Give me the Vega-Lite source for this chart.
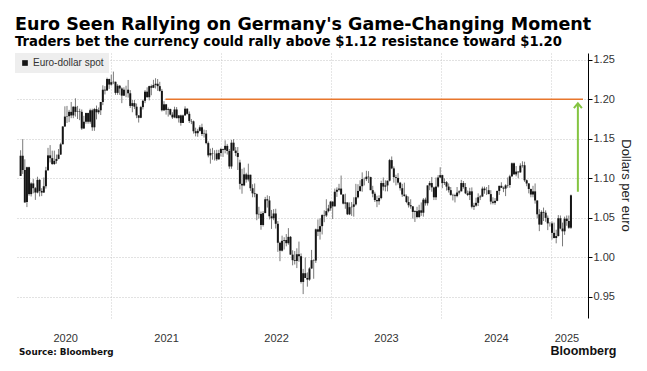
{
"$schema": "https://vega.github.io/schema/vega-lite/v6.json",
"autosize": {"type": "none"},
"width": 573, "height": 265,
"padding": {"left": 15, "top": 53, "right": 59, "bottom": 53},
"background": "white",
"title": {"text": "Euro Seen Rallying on Germany's Game-Changing Moment", "subtitle": "Traders bet the currency could rally above $1.12 resistance toward $1.20", "anchor": "start", "frame": "group", "font": "DejaVu Sans", "fontSize": 17.5, "fontWeight": "bold", "color": "#000", "subtitleFont": "DejaVu Sans", "subtitleFontSize": 13.2, "subtitleFontWeight": "bold", "subtitleColor": "#000", "offset": 5, "subtitlePadding": 2},
"config": {"view": {"stroke": null}, "font": "Liberation Sans",
 "legend": {"labelFont": "Liberation Sans", "labelFontSize": 10, "labelColor": "#333", "symbolSize": 32, "symbolType": "square", "padding": 5, "fillColor": "#eeeeee", "labelOffset": 3, "cornerRadius": 0}},
"datasets": {"fx": [
{"d":"2020-03-06","o":1.1030,"h":1.1355,"l":1.1030,"c":1.1285},
{"d":"2020-03-13","o":1.1285,"h":1.1495,"l":1.1055,"c":1.1105},
{"d":"2020-03-20","o":1.1105,"h":1.1240,"l":1.0690,"c":1.0695},
{"d":"2020-03-27","o":1.0700,"h":1.1147,"l":1.0636,"c":1.1140},
{"d":"2020-04-03","o":1.1140,"h":1.1147,"l":1.0780,"c":1.0800},
{"d":"2020-04-10","o":1.0800,"h":1.0950,"l":1.0770,"c":1.0935},
{"d":"2020-04-17","o":1.0935,"h":1.0990,"l":1.0810,"c":1.0875},
{"d":"2020-04-24","o":1.0875,"h":1.0890,"l":1.0727,"c":1.0820},
{"d":"2020-05-01","o":1.0820,"h":1.1020,"l":1.0810,"c":1.0980},
{"d":"2020-05-08","o":1.0980,"h":1.0990,"l":1.0770,"c":1.0840},
{"d":"2020-05-15","o":1.0840,"h":1.0875,"l":1.0775,"c":1.0820},
{"d":"2020-05-22","o":1.0820,"h":1.1010,"l":1.0815,"c":1.0900},
{"d":"2020-05-29","o":1.0900,"h":1.1145,"l":1.0870,"c":1.1100},
{"d":"2020-06-05","o":1.1100,"h":1.1385,"l":1.1100,"c":1.1290},
{"d":"2020-06-12","o":1.1290,"h":1.1420,"l":1.1200,"c":1.1255},
{"d":"2020-06-19","o":1.1255,"h":1.1350,"l":1.1170,"c":1.1180},
{"d":"2020-06-26","o":1.1180,"h":1.1350,"l":1.1170,"c":1.1220},
{"d":"2020-07-03","o":1.1220,"h":1.1300,"l":1.1185,"c":1.1245},
{"d":"2020-07-10","o":1.1245,"h":1.1370,"l":1.1240,"c":1.1300},
{"d":"2020-07-17","o":1.1300,"h":1.1450,"l":1.1295,"c":1.1430},
{"d":"2020-07-24","o":1.1430,"h":1.1660,"l":1.1430,"c":1.1655},
{"d":"2020-07-31","o":1.1655,"h":1.1910,"l":1.1650,"c":1.1780},
{"d":"2020-08-07","o":1.1780,"h":1.1915,"l":1.1700,"c":1.1785},
{"d":"2020-08-14","o":1.1785,"h":1.1865,"l":1.1710,"c":1.1840},
{"d":"2020-08-21","o":1.1840,"h":1.1965,"l":1.1760,"c":1.1795},
{"d":"2020-08-28","o":1.1795,"h":1.1910,"l":1.1760,"c":1.1905},
{"d":"2020-09-04","o":1.1905,"h":1.2011,"l":1.1780,"c":1.1840},
{"d":"2020-09-11","o":1.1840,"h":1.1915,"l":1.1750,"c":1.1845},
{"d":"2020-09-18","o":1.1845,"h":1.1880,"l":1.1735,"c":1.1840},
{"d":"2020-09-25","o":1.1840,"h":1.1870,"l":1.1612,"c":1.1630},
{"d":"2020-10-02","o":1.1630,"h":1.1790,"l":1.1625,"c":1.1715},
{"d":"2020-10-09","o":1.1715,"h":1.1830,"l":1.1690,"c":1.1825},
{"d":"2020-10-16","o":1.1825,"h":1.1830,"l":1.1690,"c":1.1715},
{"d":"2020-10-23","o":1.1715,"h":1.1880,"l":1.1690,"c":1.1860},
{"d":"2020-10-30","o":1.1860,"h":1.1880,"l":1.1600,"c":1.1645},
{"d":"2020-11-06","o":1.1645,"h":1.1890,"l":1.1600,"c":1.1875},
{"d":"2020-11-13","o":1.1875,"h":1.1920,"l":1.1745,"c":1.1835},
{"d":"2020-11-20","o":1.1835,"h":1.1895,"l":1.1810,"c":1.1860},
{"d":"2020-11-27","o":1.1860,"h":1.1965,"l":1.1800,"c":1.1965},
{"d":"2020-12-04","o":1.1965,"h":1.2175,"l":1.1925,"c":1.2120},
{"d":"2020-12-11","o":1.2120,"h":1.2165,"l":1.2060,"c":1.2110},
{"d":"2020-12-18","o":1.2110,"h":1.2272,"l":1.2105,"c":1.2255},
{"d":"2020-12-25","o":1.2255,"h":1.2260,"l":1.2130,"c":1.2185},
{"d":"2021-01-01","o":1.2185,"h":1.2310,"l":1.2170,"c":1.2215},
{"d":"2021-01-08","o":1.2215,"h":1.2349,"l":1.2190,"c":1.2220},
{"d":"2021-01-15","o":1.2220,"h":1.2222,"l":1.2055,"c":1.2080},
{"d":"2021-01-22","o":1.2080,"h":1.2190,"l":1.2055,"c":1.2170},
{"d":"2021-01-29","o":1.2170,"h":1.2180,"l":1.2055,"c":1.2135},
{"d":"2021-02-05","o":1.2135,"h":1.2150,"l":1.1950,"c":1.2045},
{"d":"2021-02-12","o":1.2045,"h":1.2150,"l":1.2040,"c":1.2120},
{"d":"2021-02-19","o":1.2120,"h":1.2170,"l":1.2025,"c":1.2120},
{"d":"2021-02-26","o":1.2120,"h":1.2243,"l":1.2020,"c":1.2075},
{"d":"2021-03-05","o":1.2075,"h":1.2115,"l":1.1890,"c":1.1915},
{"d":"2021-03-12","o":1.1915,"h":1.1990,"l":1.1835,"c":1.1950},
{"d":"2021-03-19","o":1.1950,"h":1.1990,"l":1.1875,"c":1.1905},
{"d":"2021-03-26","o":1.1905,"h":1.1945,"l":1.1760,"c":1.1795},
{"d":"2021-04-02","o":1.1795,"h":1.1800,"l":1.1705,"c":1.1765},
{"d":"2021-04-09","o":1.1765,"h":1.1915,"l":1.1760,"c":1.1900},
{"d":"2021-04-16","o":1.1900,"h":1.1995,"l":1.1870,"c":1.1980},
{"d":"2021-04-23","o":1.1980,"h":1.2115,"l":1.1950,"c":1.2095},
{"d":"2021-04-30","o":1.2095,"h":1.2150,"l":1.2020,"c":1.2025},
{"d":"2021-05-07","o":1.2025,"h":1.2170,"l":1.1985,"c":1.2165},
{"d":"2021-05-14","o":1.2165,"h":1.2185,"l":1.2050,"c":1.2145},
{"d":"2021-05-21","o":1.2145,"h":1.2245,"l":1.2140,"c":1.2180},
{"d":"2021-05-28","o":1.2180,"h":1.2265,"l":1.2135,"c":1.2195},
{"d":"2021-06-04","o":1.2195,"h":1.2255,"l":1.2105,"c":1.2165},
{"d":"2021-06-11","o":1.2165,"h":1.2220,"l":1.2095,"c":1.2105},
{"d":"2021-06-18","o":1.2105,"h":1.2130,"l":1.1845,"c":1.1860},
{"d":"2021-06-25","o":1.1860,"h":1.1975,"l":1.1850,"c":1.1935},
{"d":"2021-07-02","o":1.1935,"h":1.1940,"l":1.1805,"c":1.1865},
{"d":"2021-07-09","o":1.1865,"h":1.1895,"l":1.1780,"c":1.1875},
{"d":"2021-07-16","o":1.1875,"h":1.1880,"l":1.1795,"c":1.1805},
{"d":"2021-07-23","o":1.1805,"h":1.1835,"l":1.1750,"c":1.1770},
{"d":"2021-07-30","o":1.1770,"h":1.1905,"l":1.1760,"c":1.1870},
{"d":"2021-08-06","o":1.1870,"h":1.1900,"l":1.1760,"c":1.1760},
{"d":"2021-08-13","o":1.1760,"h":1.1800,"l":1.1705,"c":1.1795},
{"d":"2021-08-20","o":1.1795,"h":1.1805,"l":1.1665,"c":1.1700},
{"d":"2021-08-27","o":1.1700,"h":1.1805,"l":1.1700,"c":1.1795},
{"d":"2021-09-03","o":1.1795,"h":1.1910,"l":1.1790,"c":1.1880},
{"d":"2021-09-10","o":1.1880,"h":1.1885,"l":1.1805,"c":1.1815},
{"d":"2021-09-17","o":1.1815,"h":1.1845,"l":1.1700,"c":1.1725},
{"d":"2021-09-24","o":1.1725,"h":1.1750,"l":1.1685,"c":1.1720},
{"d":"2021-10-01","o":1.1720,"h":1.1730,"l":1.1565,"c":1.1595},
{"d":"2021-10-08","o":1.1595,"h":1.1640,"l":1.1530,"c":1.1570},
{"d":"2021-10-15","o":1.1570,"h":1.1625,"l":1.1525,"c":1.1600},
{"d":"2021-10-22","o":1.1600,"h":1.1670,"l":1.1590,"c":1.1645},
{"d":"2021-10-29","o":1.1645,"h":1.1690,"l":1.1535,"c":1.1560},
{"d":"2021-11-05","o":1.1560,"h":1.1615,"l":1.1515,"c":1.1565},
{"d":"2021-11-12","o":1.1565,"h":1.1610,"l":1.1430,"c":1.1445},
{"d":"2021-11-19","o":1.1445,"h":1.1465,"l":1.1265,"c":1.1290},
{"d":"2021-11-26","o":1.1290,"h":1.1375,"l":1.1185,"c":1.1320},
{"d":"2021-12-03","o":1.1320,"h":1.1385,"l":1.1235,"c":1.1315},
{"d":"2021-12-10","o":1.1315,"h":1.1355,"l":1.1225,"c":1.1315},
{"d":"2021-12-17","o":1.1315,"h":1.1360,"l":1.1220,"c":1.1240},
{"d":"2021-12-24","o":1.1240,"h":1.1360,"l":1.1235,"c":1.1320},
{"d":"2021-12-31","o":1.1320,"h":1.1385,"l":1.1275,"c":1.1370},
{"d":"2022-01-07","o":1.1370,"h":1.1375,"l":1.1270,"c":1.1360},
{"d":"2022-01-14","o":1.1360,"h":1.1480,"l":1.1315,"c":1.1410},
{"d":"2022-01-21","o":1.1410,"h":1.1435,"l":1.1300,"c":1.1345},
{"d":"2022-01-28","o":1.1345,"h":1.1370,"l":1.1120,"c":1.1150},
{"d":"2022-02-04","o":1.1150,"h":1.1485,"l":1.1120,"c":1.1450},
{"d":"2022-02-11","o":1.1450,"h":1.1495,"l":1.1350,"c":1.1350},
{"d":"2022-02-18","o":1.1350,"h":1.1395,"l":1.1280,"c":1.1320},
{"d":"2022-02-25","o":1.1320,"h":1.1395,"l":1.1105,"c":1.1270},
{"d":"2022-03-04","o":1.1200,"h":1.1235,"l":1.0860,"c":1.0930},
{"d":"2022-03-11","o":1.0930,"h":1.1120,"l":1.0805,"c":1.0910},
{"d":"2022-03-18","o":1.0910,"h":1.1135,"l":1.0900,"c":1.1050},
{"d":"2022-03-25","o":1.1050,"h":1.1070,"l":1.0945,"c":1.0985},
{"d":"2022-04-01","o":1.0985,"h":1.1185,"l":1.0960,"c":1.1045},
{"d":"2022-04-08","o":1.1045,"h":1.1045,"l":1.0840,"c":1.0875},
{"d":"2022-04-15","o":1.0875,"h":1.0925,"l":1.0760,"c":1.0810},
{"d":"2022-04-22","o":1.0810,"h":1.0935,"l":1.0760,"c":1.0800},
{"d":"2022-04-29","o":1.0800,"h":1.0810,"l":1.0470,"c":1.0545},
{"d":"2022-05-06","o":1.0545,"h":1.0640,"l":1.0490,"c":1.0550},
{"d":"2022-05-13","o":1.0550,"h":1.0580,"l":1.0350,"c":1.0410},
{"d":"2022-05-20","o":1.0410,"h":1.0585,"l":1.0390,"c":1.0560},
{"d":"2022-05-27","o":1.0560,"h":1.0765,"l":1.0560,"c":1.0735},
{"d":"2022-06-03","o":1.0735,"h":1.0785,"l":1.0630,"c":1.0720},
{"d":"2022-06-10","o":1.0720,"h":1.0775,"l":1.0480,"c":1.0520},
{"d":"2022-06-17","o":1.0520,"h":1.0600,"l":1.0360,"c":1.0495},
{"d":"2022-06-24","o":1.0495,"h":1.0610,"l":1.0470,"c":1.0555},
{"d":"2022-07-01","o":1.0555,"h":1.0615,"l":1.0365,"c":1.0425},
{"d":"2022-07-08","o":1.0425,"h":1.0460,"l":1.0070,"c":1.0185},
{"d":"2022-07-15","o":1.0185,"h":1.0200,"l":0.9952,"c":1.0085},
{"d":"2022-07-22","o":1.0085,"h":1.0275,"l":1.0075,"c":1.0210},
{"d":"2022-07-29","o":1.0210,"h":1.0255,"l":1.0100,"c":1.0220},
{"d":"2022-08-05","o":1.0220,"h":1.0295,"l":1.0140,"c":1.0180},
{"d":"2022-08-12","o":1.0180,"h":1.0370,"l":1.0160,"c":1.0260},
{"d":"2022-08-19","o":1.0260,"h":1.0270,"l":1.0035,"c":1.0035},
{"d":"2022-08-26","o":1.0035,"h":1.0090,"l":0.9900,"c":0.9965},
{"d":"2022-09-02","o":0.9965,"h":1.0080,"l":0.9910,"c":0.9955},
{"d":"2022-09-09","o":0.9955,"h":1.0115,"l":0.9865,"c":1.0040},
{"d":"2022-09-16","o":1.0040,"h":1.0200,"l":0.9945,"c":1.0015},
{"d":"2022-09-23","o":1.0015,"h":1.0050,"l":0.9670,"c":0.9690},
{"d":"2022-09-30","o":0.9690,"h":0.9855,"l":0.9536,"c":0.9800},
{"d":"2022-10-07","o":0.9800,"h":0.9999,"l":0.9740,"c":0.9740},
{"d":"2022-10-14","o":0.9740,"h":0.9810,"l":0.9630,"c":0.9720},
{"d":"2022-10-21","o":0.9720,"h":0.9875,"l":0.9705,"c":0.9860},
{"d":"2022-10-28","o":0.9860,"h":1.0095,"l":0.9855,"c":0.9965},
{"d":"2022-11-04","o":0.9965,"h":0.9975,"l":0.9730,"c":0.9960},
{"d":"2022-11-11","o":0.9960,"h":1.0365,"l":0.9930,"c":1.0355},
{"d":"2022-11-18","o":1.0355,"h":1.0480,"l":1.0270,"c":1.0325},
{"d":"2022-11-25","o":1.0325,"h":1.0495,"l":1.0225,"c":1.0395},
{"d":"2022-12-02","o":1.0395,"h":1.0545,"l":1.0290,"c":1.0535},
{"d":"2022-12-09","o":1.0535,"h":1.0595,"l":1.0445,"c":1.0530},
{"d":"2022-12-16","o":1.0530,"h":1.0735,"l":1.0510,"c":1.0585},
{"d":"2022-12-23","o":1.0585,"h":1.0665,"l":1.0570,"c":1.0620},
{"d":"2022-12-30","o":1.0620,"h":1.0715,"l":1.0590,"c":1.0705},
{"d":"2023-01-06","o":1.0705,"h":1.0710,"l":1.0485,"c":1.0645},
{"d":"2023-01-13","o":1.0645,"h":1.0870,"l":1.0645,"c":1.0830},
{"d":"2023-01-20","o":1.0830,"h":1.0885,"l":1.0765,"c":1.0855},
{"d":"2023-01-27","o":1.0855,"h":1.0930,"l":1.0835,"c":1.0870},
{"d":"2023-02-03","o":1.0870,"h":1.1035,"l":1.0795,"c":1.0795},
{"d":"2023-02-10","o":1.0795,"h":1.0800,"l":1.0670,"c":1.0680},
{"d":"2023-02-17","o":1.0680,"h":1.0805,"l":1.0615,"c":1.0695},
{"d":"2023-02-24","o":1.0695,"h":1.0695,"l":1.0535,"c":1.0545},
{"d":"2023-03-03","o":1.0545,"h":1.0695,"l":1.0535,"c":1.0635},
{"d":"2023-03-10","o":1.0635,"h":1.0700,"l":1.0525,"c":1.0640},
{"d":"2023-03-17","o":1.0640,"h":1.0760,"l":1.0515,"c":1.0670},
{"d":"2023-03-24","o":1.0670,"h":1.0930,"l":1.0655,"c":1.0760},
{"d":"2023-03-31","o":1.0760,"h":1.0925,"l":1.0745,"c":1.0840},
{"d":"2023-04-07","o":1.0840,"h":1.0975,"l":1.0830,"c":1.0900},
{"d":"2023-04-14","o":1.0900,"h":1.1075,"l":1.0830,"c":1.0990},
{"d":"2023-04-21","o":1.0990,"h":1.1010,"l":1.0910,"c":1.0990},
{"d":"2023-04-28","o":1.0990,"h":1.1095,"l":1.0965,"c":1.1020},
{"d":"2023-05-05","o":1.1020,"h":1.1090,"l":1.0940,"c":1.1015},
{"d":"2023-05-12","o":1.1015,"h":1.1020,"l":1.0850,"c":1.0850},
{"d":"2023-05-19","o":1.0850,"h":1.0905,"l":1.0760,"c":1.0805},
{"d":"2023-05-26","o":1.0805,"h":1.0830,"l":1.0700,"c":1.0725},
{"d":"2023-06-02","o":1.0725,"h":1.0780,"l":1.0635,"c":1.0710},
{"d":"2023-06-09","o":1.0710,"h":1.0785,"l":1.0665,"c":1.0750},
{"d":"2023-06-16","o":1.0750,"h":1.0970,"l":1.0735,"c":1.0940},
{"d":"2023-06-23","o":1.0940,"h":1.1010,"l":1.0845,"c":1.0895},
{"d":"2023-06-30","o":1.0895,"h":1.0975,"l":1.0835,"c":1.0910},
{"d":"2023-07-07","o":1.0910,"h":1.0970,"l":1.0835,"c":1.0970},
{"d":"2023-07-14","o":1.0970,"h":1.1245,"l":1.0960,"c":1.1230},
{"d":"2023-07-21","o":1.1230,"h":1.1276,"l":1.1115,"c":1.1125},
{"d":"2023-07-28","o":1.1125,"h":1.1150,"l":1.0945,"c":1.1015},
{"d":"2023-08-04","o":1.1015,"h":1.1045,"l":1.0910,"c":1.1005},
{"d":"2023-08-11","o":1.1005,"h":1.1065,"l":1.0920,"c":1.0945},
{"d":"2023-08-18","o":1.0945,"h":1.0955,"l":1.0845,"c":1.0875},
{"d":"2023-08-25","o":1.0875,"h":1.0930,"l":1.0765,"c":1.0795},
{"d":"2023-09-01","o":1.0795,"h":1.0945,"l":1.0770,"c":1.0775},
{"d":"2023-09-08","o":1.0775,"h":1.0795,"l":1.0685,"c":1.0700},
{"d":"2023-09-15","o":1.0700,"h":1.0770,"l":1.0630,"c":1.0660},
{"d":"2023-09-22","o":1.0660,"h":1.0735,"l":1.0615,"c":1.0645},
{"d":"2023-09-29","o":1.0645,"h":1.0650,"l":1.0490,"c":1.0575},
{"d":"2023-10-06","o":1.0575,"h":1.0595,"l":1.0448,"c":1.0585},
{"d":"2023-10-13","o":1.0585,"h":1.0640,"l":1.0495,"c":1.0510},
{"d":"2023-10-20","o":1.0510,"h":1.0665,"l":1.0500,"c":1.0595},
{"d":"2023-10-27","o":1.0595,"h":1.0695,"l":1.0525,"c":1.0565},
{"d":"2023-11-03","o":1.0565,"h":1.0750,"l":1.0515,"c":1.0730},
{"d":"2023-11-10","o":1.0730,"h":1.0755,"l":1.0655,"c":1.0685},
{"d":"2023-11-17","o":1.0685,"h":1.0910,"l":1.0655,"c":1.0910},
{"d":"2023-11-24","o":1.0910,"h":1.0965,"l":1.0850,"c":1.0940},
{"d":"2023-12-01","o":1.0940,"h":1.1017,"l":1.0830,"c":1.0885},
{"d":"2023-12-08","o":1.0885,"h":1.0895,"l":1.0725,"c":1.0760},
{"d":"2023-12-15","o":1.0760,"h":1.1010,"l":1.0725,"c":1.0895},
{"d":"2023-12-22","o":1.0895,"h":1.1040,"l":1.0880,"c":1.1010},
{"d":"2023-12-29","o":1.1010,"h":1.1140,"l":1.1005,"c":1.1040},
{"d":"2024-01-05","o":1.1040,"h":1.1045,"l":1.0875,"c":1.0940},
{"d":"2024-01-12","o":1.0940,"h":1.1000,"l":1.0915,"c":1.0950},
{"d":"2024-01-19","o":1.0950,"h":1.0965,"l":1.0845,"c":1.0895},
{"d":"2024-01-26","o":1.0895,"h":1.0935,"l":1.0820,"c":1.0850},
{"d":"2024-02-02","o":1.0850,"h":1.0890,"l":1.0780,"c":1.0790},
{"d":"2024-02-09","o":1.0790,"h":1.0805,"l":1.0720,"c":1.0785},
{"d":"2024-02-16","o":1.0785,"h":1.0805,"l":1.0695,"c":1.0775},
{"d":"2024-02-23","o":1.0775,"h":1.0890,"l":1.0760,"c":1.0820},
{"d":"2024-03-01","o":1.0820,"h":1.0850,"l":1.0795,"c":1.0835},
{"d":"2024-03-08","o":1.0835,"h":1.0980,"l":1.0835,"c":1.0940},
{"d":"2024-03-15","o":1.0940,"h":1.0965,"l":1.0870,"c":1.0890},
{"d":"2024-03-22","o":1.0890,"h":1.0940,"l":1.0800,"c":1.0810},
{"d":"2024-03-29","o":1.0810,"h":1.0845,"l":1.0775,"c":1.0790},
{"d":"2024-04-05","o":1.0790,"h":1.0880,"l":1.0725,"c":1.0835},
{"d":"2024-04-12","o":1.0835,"h":1.0885,"l":1.0620,"c":1.0640},
{"d":"2024-04-19","o":1.0640,"h":1.0690,"l":1.0600,"c":1.0655},
{"d":"2024-04-26","o":1.0655,"h":1.0755,"l":1.0640,"c":1.0690},
{"d":"2024-05-03","o":1.0690,"h":1.0810,"l":1.0650,"c":1.0760},
{"d":"2024-05-10","o":1.0760,"h":1.0790,"l":1.0725,"c":1.0770},
{"d":"2024-05-17","o":1.0770,"h":1.0895,"l":1.0765,"c":1.0870},
{"d":"2024-05-24","o":1.0870,"h":1.0895,"l":1.0805,"c":1.0850},
{"d":"2024-05-31","o":1.0850,"h":1.0890,"l":1.0790,"c":1.0850},
{"d":"2024-06-07","o":1.0850,"h":1.0915,"l":1.0800,"c":1.0800},
{"d":"2024-06-14","o":1.0800,"h":1.0850,"l":1.0670,"c":1.0705},
{"d":"2024-06-21","o":1.0705,"h":1.0760,"l":1.0670,"c":1.0690},
{"d":"2024-06-28","o":1.0690,"h":1.0750,"l":1.0665,"c":1.0715},
{"d":"2024-07-05","o":1.0715,"h":1.0845,"l":1.0710,"c":1.0840},
{"d":"2024-07-12","o":1.0840,"h":1.0905,"l":1.0790,"c":1.0905},
{"d":"2024-07-19","o":1.0905,"h":1.0950,"l":1.0880,"c":1.0880},
{"d":"2024-07-26","o":1.0880,"h":1.0895,"l":1.0825,"c":1.0870},
{"d":"2024-08-02","o":1.0870,"h":1.0925,"l":1.0775,"c":1.0910},
{"d":"2024-08-09","o":1.0910,"h":1.1010,"l":1.0880,"c":1.0915},
{"d":"2024-08-16","o":1.0915,"h":1.1045,"l":1.0880,"c":1.1025},
{"d":"2024-08-23","o":1.1025,"h":1.1200,"l":1.1015,"c":1.1190},
{"d":"2024-08-30","o":1.1190,"h":1.1200,"l":1.1045,"c":1.1050},
{"d":"2024-09-06","o":1.1050,"h":1.1155,"l":1.1025,"c":1.1085},
{"d":"2024-09-13","o":1.1085,"h":1.1090,"l":1.1000,"c":1.1075},
{"d":"2024-09-20","o":1.1075,"h":1.1190,"l":1.1070,"c":1.1160},
{"d":"2024-09-27","o":1.1160,"h":1.1215,"l":1.1135,"c":1.1165},
{"d":"2024-10-04","o":1.1165,"h":1.1210,"l":1.0955,"c":1.0975},
{"d":"2024-10-11","o":1.0975,"h":1.0985,"l":1.0900,"c":1.0935},
{"d":"2024-10-18","o":1.0935,"h":1.0940,"l":1.0810,"c":1.0865},
{"d":"2024-10-25","o":1.0865,"h":1.0870,"l":1.0760,"c":1.0795},
{"d":"2024-11-01","o":1.0795,"h":1.0905,"l":1.0760,"c":1.0835},
{"d":"2024-11-08","o":1.0835,"h":1.0935,"l":1.0680,"c":1.0720},
{"d":"2024-11-15","o":1.0720,"h":1.0720,"l":1.0495,"c":1.0545},
{"d":"2024-11-22","o":1.0545,"h":1.0610,"l":1.0332,"c":1.0415},
{"d":"2024-11-29","o":1.0415,"h":1.0595,"l":1.0410,"c":1.0575},
{"d":"2024-12-06","o":1.0575,"h":1.0630,"l":1.0460,"c":1.0565},
{"d":"2024-12-13","o":1.0565,"h":1.0595,"l":1.0450,"c":1.0500},
{"d":"2024-12-20","o":1.0500,"h":1.0530,"l":1.0345,"c":1.0430},
{"d":"2024-12-27","o":1.0430,"h":1.0445,"l":1.0390,"c":1.0430},
{"d":"2025-01-03","o":1.0430,"h":1.0455,"l":1.0225,"c":1.0310},
{"d":"2025-01-10","o":1.0310,"h":1.0440,"l":1.0240,"c":1.0245},
{"d":"2025-01-17","o":1.0245,"h":1.0350,"l":1.0178,"c":1.0270},
{"d":"2025-01-24","o":1.0270,"h":1.0535,"l":1.0265,"c":1.0495},
{"d":"2025-01-31","o":1.0495,"h":1.0530,"l":1.0355,"c":1.0365},
{"d":"2025-02-07","o":1.0365,"h":1.0440,"l":1.0140,"c":1.0330},
{"d":"2025-02-14","o":1.0330,"h":1.0515,"l":1.0285,"c":1.0490},
{"d":"2025-02-21","o":1.0490,"h":1.0530,"l":1.0400,"c":1.0460},
{"d":"2025-02-28","o":1.0460,"h":1.0530,"l":1.0360,"c":1.0375},
{"d":"2025-03-07","o":1.0375,"h":1.0795,"l":1.0360,"c":1.0785}
]},
"resolve": {"axis": {"x": "independent"}},
"layer": [
{
"data": {"name": "fx"},
"mark": {"type": "rule", "color": "#7a7a7a", "strokeWidth": 1},
"encoding": {
"x": {"field": "d", "type": "temporal",
 "scale": {"type": "utc", "domain": [{"year": 2020, "month": 3, "date": 4, "utc": true}, {"year": 2025, "month": 4, "date": 16, "utc": true}]},
 "axis": {"orient": "top", "values": [{"year": 2021, "month": 1, "date": 1, "utc": true}, {"year": 2022, "month": 1, "date": 1, "utc": true}, {"year": 2023, "month": 1, "date": 1, "utc": true}, {"year": 2024, "month": 1, "date": 1, "utc": true}, {"year": 2025, "month": 1, "date": 1, "utc": true}],
  "grid": true, "gridColor": "#cccccc", "gridDash": [1, 2], "labels": false, "ticks": false, "domain": false,
  "title": "Bloomberg", "titleX": 601, "titleY": 301, "titleAlign": "right", "titleBaseline": "alphabetic", "titleFont": "Liberation Sans", "titleFontSize": 12.5, "titleFontWeight": "bold", "titleColor": "#111"}},
"y": {"field": "l", "type": "quantitative",
 "scale": {"domain": [0.9234, 1.2584], "zero": false, "nice": false},
 "axis": {"orient": "right", "values": [0.95, 0.975, 1.0, 1.025, 1.05, 1.075, 1.1, 1.125, 1.15, 1.175, 1.2, 1.225, 1.25],
  "labelExpr": "round(datum.value*1000) % 50 === 0 ? format(datum.value, '.2f') : ''",
  "grid": true, "gridColor": "#c4c4c4", "gridDash": [1, 2],
  "gridOpacity": {"condition": {"test": "round(datum.value*1000) % 50 === 0", "value": 1}, "value": 0},
  "tickSize": 4, "tickColor": "#000", "domainColor": "#000", "labelFont": "Liberation Sans", "labelFontSize": 11, "labelColor": "#333", "labelPadding": 1,
  "title": "Dollars per euro", "titleFont": "Liberation Sans", "titleFontSize": 13, "titleFontWeight": "normal", "titleColor": "#222",
  "titleAngle": 90, "titleX": 37, "titleY": 132, "titleAlign": "center", "titleBaseline": "middle"}},
"y2": {"field": "h"}
}
},
{
"data": {"name": "fx"},
"mark": {"type": "bar", "size": 2},
"encoding": {
"x": {"field": "d", "type": "temporal",
 "axis": {"orient": "bottom", "values": [{"year": 2020, "month": 8, "date": 1, "utc": true}, {"year": 2021, "month": 7, "date": 2, "utc": true}, {"year": 2022, "month": 7, "date": 2, "utc": true}, {"year": 2023, "month": 7, "date": 2, "utc": true}, {"year": 2024, "month": 7, "date": 1, "utc": true}, {"year": 2025, "month": 2, "date": 20, "utc": true}],
  "labelExpr": "utcFormat(datum.value, '%Y')", "labelFlush": false, "labelOverlap": false,
  "grid": false, "ticks": false, "domain": false, "labelPadding": 14, "labelFont": "Liberation Sans", "labelFontSize": 11, "labelColor": "#333",
  "title": "Source: Bloomberg", "titleX": 3.5, "titleY": 36, "titleAlign": "left", "titleBaseline": "alphabetic", "titleFont": "DejaVu Sans", "titleFontSize": 8.8, "titleFontWeight": "bold", "titleColor": "#111"}},
"y": {"field": "o", "type": "quantitative"},
"y2": {"field": "c"},
"color": {"datum": "Euro-dollar spot", "scale": {"range": ["#151515"]},
 "legend": {"orient": "top-left", "offset": 0, "title": null, "symbolType": "square", "symbolSize": 32, "symbolStrokeWidth": 0, "labelFont": "Liberation Sans", "labelFontSize": 10, "labelColor": "#333", "labelOffset": 3, "fillColor": "#eeeeee", "padding": 5, "cornerRadius": 0}}
}
},
{
"data": {"values": [{"a": "2021-06-30", "b": "2025-04-16", "v": 1.2}]},
"mark": {"type": "rule", "color": "#e8762c", "strokeWidth": 1.5},
"encoding": {
"x": {"field": "a", "type": "temporal", "axis": null},
"x2": {"field": "b"},
"y": {"field": "v", "type": "quantitative"}
}
},
{
"data": {"values": [{"t": "2025-03-30", "y0": 1.083, "y1": 1.193}]},
"mark": {"type": "rule", "color": "#84c441", "strokeWidth": 2},
"encoding": {
"x": {"field": "t", "type": "temporal", "axis": null},
"y": {"field": "y0", "type": "quantitative"},
"y2": {"field": "y1"}
}
},
{
"data": {"values": [{"t": "2025-03-30", "y": 1.1948}]},
"mark": {"type": "point", "shape": "M-1,1.2L0,0L1,1.2", "filled": false, "size": 64, "stroke": "#84c441", "strokeWidth": 2, "opacity": 1},
"encoding": {
"x": {"field": "t", "type": "temporal", "axis": null},
"y": {"field": "y", "type": "quantitative"}
}
}
]
}
